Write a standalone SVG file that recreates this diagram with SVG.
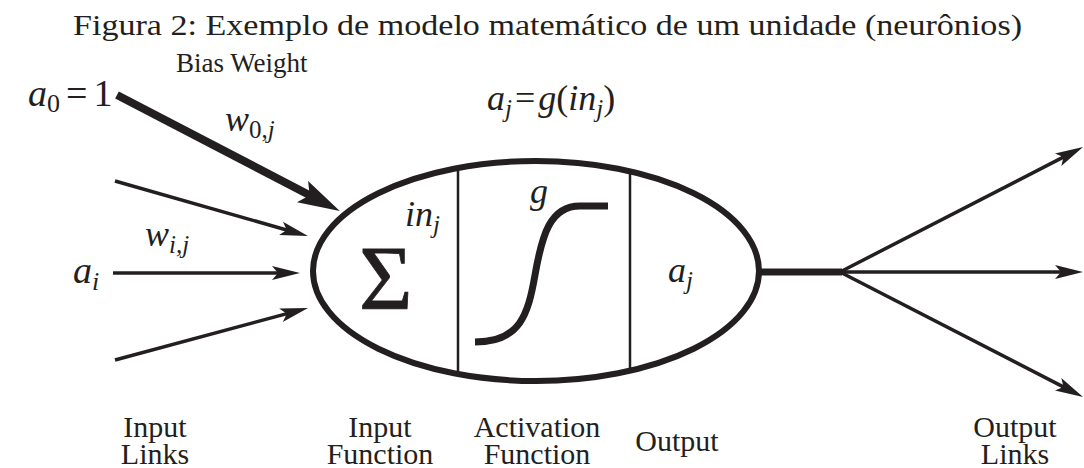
<svg xmlns="http://www.w3.org/2000/svg" width="1084" height="468" viewBox="0 0 1084 468" font-family="'Liberation Serif', 'DejaVu Serif', serif">
<style>
text{font-family:'Liberation Serif','DejaVu Serif',serif;fill:#231f20}
.m{font-style:italic}
.lab{font-size:30px;text-anchor:middle}
.thin{stroke:#231f20;stroke-width:3.5;fill:none}
</style>
<defs>
<marker id="ah" markerUnits="userSpaceOnUse" viewBox="-2 -10 34 20" markerWidth="34" markerHeight="20" refX="14" refY="0" orient="auto">
<path d="M0,-7 L28,0 L0,7 L6,0 Z" fill="#231f20"/>
</marker>
<marker id="ahb" markerUnits="userSpaceOnUse" viewBox="-2 -14 48 28" markerWidth="48" markerHeight="28" refX="20" refY="0" orient="auto">
<path d="M0,-12 L42,0 L0,12 L8,0 Z" fill="#231f20"/>
</marker>
<clipPath id="ec"><ellipse cx="536" cy="271" rx="223" ry="110"/></clipPath>
</defs>
<rect width="1084" height="468" fill="#fff"/>
<text id="title" x="73" y="35" font-size="30" textLength="949" lengthAdjust="spacingAndGlyphs">Figura 2: Exemplo de modelo matemático de um unidade (neurônios)</text>

<g id="connectors">
<line x1="117" y1="95" x2="320.3" y2="200.8" stroke="#231f20" stroke-width="8" marker-end="url(#ahb)"/>
<line class="thin" x1="115" y1="181" x2="294.5" y2="232.2" marker-end="url(#ah)"/>
<line class="thin" x1="113" y1="273" x2="286" y2="273" marker-end="url(#ah)"/>
<line class="thin" x1="115" y1="360" x2="294.5" y2="311.6" marker-end="url(#ah)"/>
<line x1="759" y1="272" x2="842" y2="272" stroke="#231f20" stroke-width="7"/>
<line class="thin" x1="840" y1="272" x2="1070.6" y2="153.4" marker-end="url(#ah)"/>
<line class="thin" x1="840" y1="272" x2="1069" y2="272" marker-end="url(#ah)"/>
<line class="thin" x1="840" y1="272" x2="1070.6" y2="390.6" marker-end="url(#ah)"/>
</g>

<g id="unit">
<ellipse cx="536" cy="271" rx="223" ry="110" fill="none" stroke="#231f20" stroke-width="6"/>
<g clip-path="url(#ec)" stroke="#231f20" stroke-width="2.5">
<line x1="458" y1="150" x2="458" y2="392"/>
<line x1="630" y1="150" x2="630" y2="392"/>
</g>
</g>

<g id="input-function">
<text x="359" y="309" font-size="92" stroke="#231f20" stroke-width="0.8">Σ</text>
<text class="m" x="405" y="226" font-size="36">in<tspan font-size="25" dy="7">j</tspan></text>
</g>

<g id="activation-function">
<text class="m" x="530" y="203" font-size="36">g</text>
<path d="M475,342 C520,342 528,315 535,275 C542,235 550,206 580,206 L608,206" fill="none" stroke="#231f20" stroke-width="7"/>
</g>

<g id="output">
<text class="m" x="668" y="282" font-size="36">a<tspan font-size="25" dy="7">j</tspan></text>
</g>

<g id="bias">
<text x="176" y="72" font-size="27">Bias Weight</text>
<text x="28" y="106" font-size="38"><tspan class="m">a</tspan><tspan font-size="26" dy="6">0</tspan><tspan dy="-6" dx="6">=</tspan><tspan dx="6">1</tspan></text>
<text class="m" x="225" y="131" font-size="36">w<tspan font-size="25" dy="7" font-style="normal">0,</tspan><tspan font-size="25">j</tspan></text>
</g>

<g id="activation-formula">
<text class="m" x="487" y="110" font-size="36">a<tspan font-size="25" dy="7">j</tspan><tspan dy="-7" font-style="normal" dx="3">=</tspan><tspan dx="3">g</tspan><tspan font-style="normal">(</tspan>in<tspan font-size="25" dy="7">j</tspan><tspan dy="-7" font-style="normal">)</tspan></text>
</g>

<g id="input-i">
<text class="m" x="145" y="246" font-size="36">w<tspan font-size="25" dy="7">i,j</tspan></text>
<text class="m" x="73" y="283" font-size="38">a<tspan font-size="26" dy="7">i</tspan></text>
</g>

<g id="labels">
<text class="lab" x="155" y="437">Input<tspan x="155" dy="27">Links</tspan></text>
<text class="lab" x="380" y="437">Input<tspan x="380" dy="27">Function</tspan></text>
<text class="lab" x="537" y="437">Activation<tspan x="537" dy="27">Function</tspan></text>
<text class="lab" x="677" y="451">Output</text>
<text class="lab" x="1015" y="437">Output<tspan x="1015" dy="27">Links</tspan></text>
</g>
</svg>
